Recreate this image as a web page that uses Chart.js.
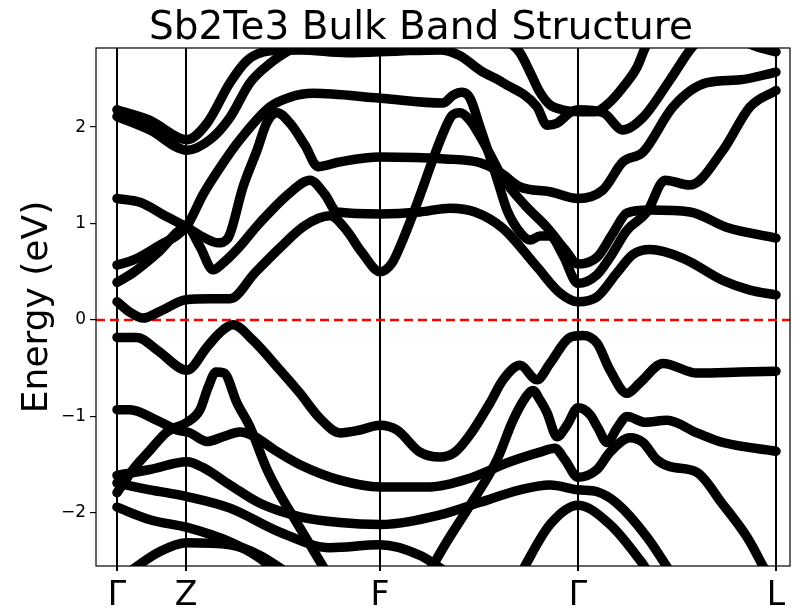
<!DOCTYPE html>
<html>
<head>
<meta charset="utf-8">
<script src="https://cdn.jsdelivr.net/npm/chart.js@4"></script>
<style>
html, body { margin: 0; padding: 0; background: #fff; }
</style>
</head>
<body>
<canvas id="bands" width="793" height="608"></canvas>
<script>
// high symmetry points along the k-path
const kLabels = ['Γ', 'Z', 'F', 'Γ', 'L'];
const kTicks = [0, 0.69, 2.63, 4.61, 6.59];
const kRange = [-0.21, 6.73];
const eRange = [-2.55, 2.82];
const eTicks = [-2, -1, 0, 1, 2];

// conduction bands, [k, E(eV)]
const cb1 = [[0,0.19],[0.13,0.08],[0.26,0.02],[0.43,0.09],[0.69,0.21],[0.93,0.22],[1.13,0.22],[1.38,0.49],[1.63,0.75],[1.88,0.98],[2.13,1.08],[2.28,0.95],[2.45,0.70],[2.63,0.50],[2.75,0.59],[2.85,0.81],[2.95,1.07],[3.05,1.35],[3.15,1.64],[3.25,1.91],[3.35,2.12],[3.43,2.15],[3.53,2.07],[3.65,1.87],[3.75,1.68],[3.86,1.47],[4.08,1.19],[4.30,0.96],[4.48,0.73],[4.61,0.58],[4.80,0.65],[4.96,0.90],[5.10,1.11],[5.33,1.14],[5.73,1.12],[6.10,0.96],[6.59,0.85]];
const cb2 = [[0,0.39],[0.16,0.49],[0.40,0.69],[0.70,0.96],[0.83,0.76],[0.96,0.52],[1.06,0.59],[1.20,0.73],[1.43,1.01],[1.73,1.32],[1.93,1.45],[2.08,1.30],[2.20,1.12],[2.63,1.10],[3.03,1.12],[3.33,1.16],[3.58,1.12],[3.86,0.95],[4.20,0.55],[4.43,0.28],[4.61,0.19],[4.80,0.24],[5.00,0.49],[5.16,0.68],[5.33,0.73],[5.66,0.64],[6.06,0.41],[6.33,0.31],[6.59,0.26]];
const cb3 = [[0,0.57],[0.16,0.62],[0.40,0.76],[0.70,0.98],[0.86,1.30],[1.03,1.58],[1.23,1.87],[1.53,2.21],[1.73,2.31],[1.96,2.35],[2.63,2.30],[3.26,2.25],[3.36,2.33],[3.45,2.36],[3.53,2.30],[3.63,2.00],[3.73,1.69],[3.81,1.43],[3.90,1.14],[4.03,0.91],[4.13,0.83],[4.23,0.87],[4.33,0.87],[4.46,0.67],[4.61,0.38],[4.80,0.47],[4.93,0.65],[5.10,0.93],[5.30,1.12],[5.48,1.45],[5.73,1.40],[6.06,1.76],[6.33,2.21],[6.59,2.38]];
const cb4 = [[0,1.26],[0.23,1.22],[0.50,1.07],[0.70,0.96],[0.86,0.86],[1.01,0.80],[1.11,0.85],[1.26,1.38],[1.40,1.76],[1.50,2.05],[1.60,2.15],[1.73,2.04],[1.88,1.81],[2.01,1.59],[2.23,1.64],[2.63,1.69],[3.28,1.67],[3.63,1.63],[3.83,1.53],[4.03,1.38],[4.33,1.33],[4.61,1.26],[4.86,1.35],[5.06,1.64],[5.26,1.74],[5.56,2.21],[5.90,2.46],[6.23,2.49],[6.59,2.57]];
const cb5 = [[0,2.11],[0.33,1.97],[0.70,1.76],[0.93,1.87],[1.13,2.10],[1.33,2.46],[1.53,2.66],[1.73,2.80],[1.93,2.90]];
const cb6 = [[0,2.18],[0.33,2.07],[0.70,1.87],[0.90,2.04],[1.13,2.46],[1.30,2.69],[1.53,2.79],[1.83,2.80],[2.30,2.77],[2.83,2.79],[3.23,2.80],[3.43,2.74],[3.63,2.59],[3.86,2.46],[4.20,2.21],[4.30,2.02],[4.40,2.04],[4.53,2.15],[4.61,2.18],[4.86,2.15],[5.06,1.97],[5.26,2.10],[5.53,2.49],[5.73,2.80],[5.83,2.92]];
const cb7 = [[3.88,2.92],[4.03,2.77],[4.13,2.57],[4.23,2.36],[4.33,2.23],[4.45,2.18],[4.61,2.16],[4.78,2.16],[4.93,2.26],[5.08,2.44],[5.20,2.62],[5.28,2.82],[5.33,2.92]];
const cb8 = [[6.18,2.94],[6.38,2.84],[6.59,2.78]];

// valence bands
const vb1 = [[0,-0.18],[0.20,-0.18],[0.40,-0.31],[0.70,-0.52],[0.90,-0.28],[1.03,-0.13],[1.16,-0.05],[1.36,-0.21],[1.63,-0.52],[1.83,-0.76],[2.03,-1.02],[2.23,-1.17],[2.43,-1.14],[2.63,-1.09],[2.80,-1.14],[3.03,-1.37],[3.23,-1.42],[3.38,-1.37],[3.53,-1.19],[3.73,-0.86],[3.86,-0.62],[4.03,-0.47],[4.20,-0.62],[4.33,-0.45],[4.53,-0.18],[4.66,-0.16],[4.80,-0.24],[4.93,-0.52],[5.10,-0.76],[5.23,-0.65],[5.46,-0.45],[5.80,-0.55],[6.23,-0.54],[6.59,-0.53]];
const vb2 = [[0,-0.93],[0.13,-0.93],[0.40,-1.04],[0.60,-1.14],[0.73,-1.17],[0.90,-1.26],[1.06,-1.21],[1.23,-1.16],[1.38,-1.21],[1.58,-1.35],[1.83,-1.50],[2.23,-1.66],[2.63,-1.73],[3.13,-1.73],[3.53,-1.64],[3.93,-1.47],[4.23,-1.37],[4.38,-1.33],[4.48,-1.45],[4.61,-1.63],[4.80,-1.55],[4.93,-1.37],[5.13,-1.22],[5.26,-1.27],[5.40,-1.45],[5.53,-1.52],[5.80,-1.58],[6.05,-1.90],[6.30,-2.25],[6.48,-2.59]];
const vb3 = [[0,-1.79],[0.16,-1.55],[0.33,-1.35],[0.50,-1.16],[0.70,-1.06],[0.83,-0.93],[0.91,-0.70],[0.99,-0.54],[1.07,-0.55],[1.20,-0.86],[1.33,-1.11],[1.50,-1.55],[1.63,-1.81],[1.78,-2.07],[1.93,-2.33],[2.08,-2.59]];
const vb4 = [[3.08,-2.69],[3.28,-2.33],[3.53,-1.92],[3.80,-1.45],[3.96,-1.04],[4.08,-0.81],[4.16,-0.73],[4.23,-0.83],[4.30,-0.96],[4.40,-1.21],[4.50,-1.09],[4.61,-0.91],[4.73,-0.98],[4.81,-1.12],[4.90,-1.27],[5.00,-1.12],[5.10,-1.00],[5.28,-1.06],[5.50,-1.04],[5.80,-1.17],[6.06,-1.27],[6.59,-1.36]];
const vb5 = [[0,-1.61],[0.33,-1.55],[0.70,-1.47],[0.86,-1.53],[1.13,-1.71],[1.43,-1.90],[1.83,-2.04],[2.23,-2.10],[2.63,-2.12],[3.23,-2.02],[3.63,-1.89],[4.03,-1.76],[4.33,-1.71],[4.61,-1.76],[4.80,-1.78],[5.00,-1.90],[5.30,-2.25],[5.55,-2.64]];
const vb6 = [[0,-1.69],[0.33,-1.76],[0.70,-1.83],[1.13,-1.95],[1.63,-2.20],[2.13,-2.36],[2.63,-2.33],[3.03,-2.44],[3.33,-2.64]];
const vb7 = [[0,-1.94],[0.33,-2.07],[0.70,-2.15],[1.13,-2.30],[1.43,-2.47],[1.63,-2.64]];
const vb8 = [[0.08,-2.64],[0.43,-2.40],[0.70,-2.31],[1.13,-2.33],[1.43,-2.44],[1.73,-2.64]];
const vb9 = [[4.03,-2.64],[4.33,-2.12],[4.61,-1.92],[4.93,-2.12],[5.23,-2.49],[5.33,-2.64]];

const bandList = [cb1, cb2, cb3, cb4, cb5, cb6, cb7, cb8, vb1, vb2, vb3, vb4, vb5, vb6, vb7, vb8, vb9];

const datasets = bandList.map(b => ({
    data: b.map(p => ({x: p[0], y: p[1]})),
    showLine: true,
    borderColor: '#000',
    borderWidth: 9.5,
    borderCapStyle: 'round',
    borderJoinStyle: 'round',
    pointRadius: 0,
    cubicInterpolationMode: 'monotone',
    clip: 0
}));

// fermi level
datasets.push({
    data: [{x: kRange[0], y: 0}, {x: kRange[1], y: 0}],
    showLine: true,
    borderColor: '#ff0000',
    borderWidth: 2.5,
    borderDash: [9, 5],
    pointRadius: 0,
    clip: 0
});

const FONT = 'DejaVu Sans';

// frame, title and axis labels drawn on top of the plot
const decorations = {
    id: 'decorations',
    afterDraw(chart) {
        const ctx = chart.ctx;
        const a = chart.chartArea;
        ctx.save();
        ctx.strokeStyle = '#000';
        ctx.lineWidth = 1.2;
        ctx.strokeRect(a.left, a.top, a.right - a.left, a.bottom - a.top);

        ctx.fillStyle = '#000';
        ctx.font = '39px "' + FONT + '"';
        ctx.textAlign = 'center';
        ctx.textBaseline = 'alphabetic';
        ctx.fillText('Sb2Te3 Bulk Band Structure', 421, 39);

        const xs = chart.scales.x;
        ctx.font = '33px "' + FONT + '"';
        kTicks.forEach((k, i) => {
            ctx.fillText(kLabels[i], xs.getPixelForValue(k), 605);
        });

        ctx.font = '36px "' + FONT + '"';
        ctx.translate(47, (a.top + a.bottom) / 2);
        ctx.rotate(-Math.PI / 2);
        ctx.fillText('Energy (eV)', 0, 0);
        ctx.restore();
    }
};

new Chart(document.getElementById('bands'), {
    type: 'scatter',
    data: { datasets: datasets },
    options: {
        responsive: false,
        animation: false,
        devicePixelRatio: 1,
        layout: { padding: { top: 48, right: 3, left: 0, bottom: 0 } },
        plugins: { legend: { display: false }, tooltip: { enabled: false }, title: { display: false } },
        scales: {
            x: {
                type: 'linear',
                min: kRange[0],
                max: kRange[1],
                afterBuildTicks: s => { s.ticks = kTicks.map(v => ({value: v})); },
                afterFit: s => { s.height = 42; },
                ticks: { display: false },
                grid: { color: '#000', lineWidth: 2, drawTicks: true, tickLength: 5 },
                border: { display: false }
            },
            y: {
                min: eRange[0],
                max: eRange[1],
                afterBuildTicks: s => { s.ticks = eTicks.map(v => ({value: v})); },
                afterFit: s => { s.width = 96; },
                ticks: {
                    color: '#000',
                    font: { family: FONT, size: 17 },
                    padding: 4,
                    callback: v => (v < 0 ? '\u2212' + Math.abs(v) : String(v))
                },
                grid: { drawOnChartArea: false, color: '#000', tickLength: 6, lineWidth: 1.2 },
                border: { display: false }
            }
        }
    },
    plugins: [decorations]
});
</script>
</body>
</html>
